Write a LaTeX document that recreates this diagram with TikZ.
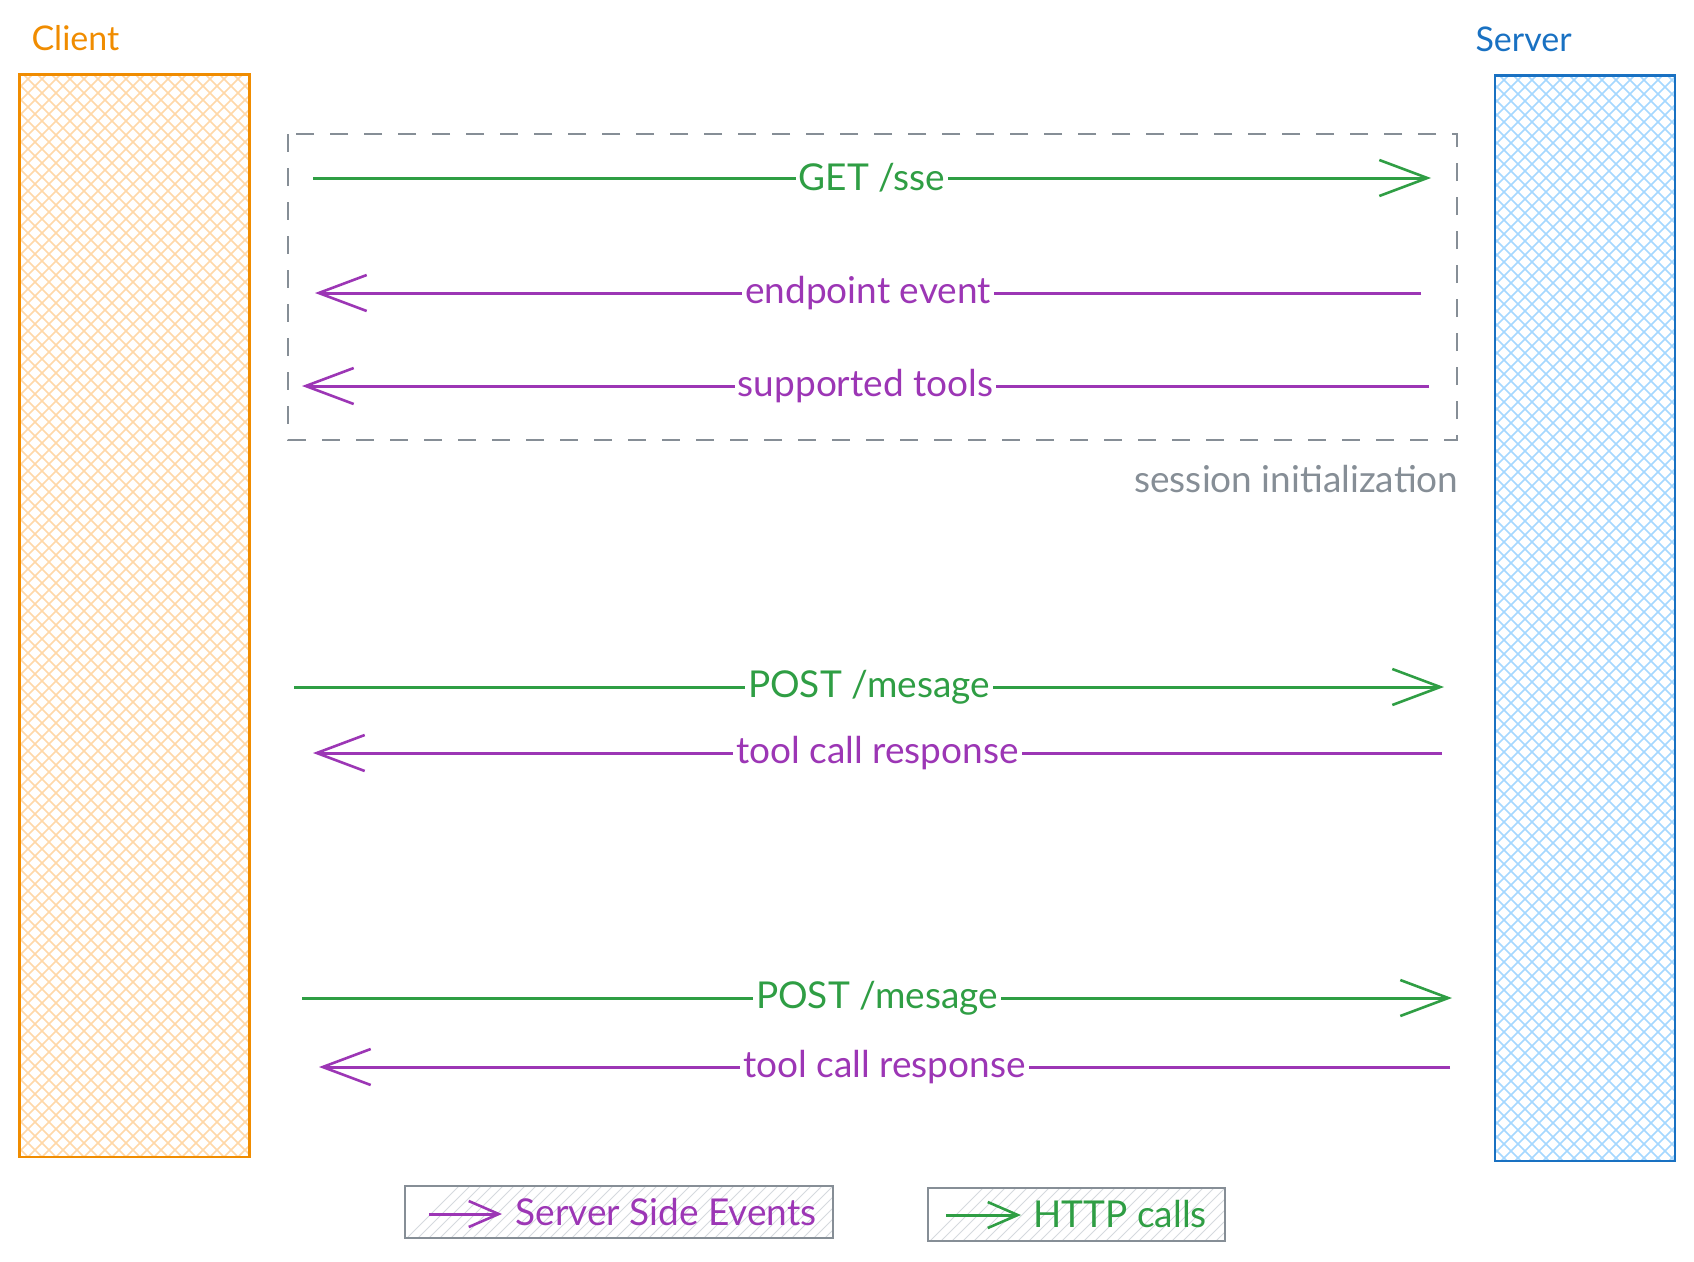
\documentclass[tikz,border=0pt]{standalone}
\usepackage{fontspec}
\setmainfont{Lato}
\usepackage{tikz}
\usetikzlibrary{arrows.meta,positioning}

\definecolor{cliorange}{HTML}{F08C00}
\definecolor{clifill}{HTML}{FFD8A8}
\definecolor{srvblue}{HTML}{1971C2}
\definecolor{srvfill}{HTML}{A5D8FF}
\definecolor{httpgreen}{HTML}{2F9E44}
\definecolor{ssepurple}{HTML}{9C36B5}
\definecolor{boxgray}{HTML}{868E96}
\definecolor{hatchgray}{HTML}{D5D9DE}

\begin{document}
\begin{tikzpicture}[x=1pt,y=-1pt]
\tikzstyle{every node}=[font=\fontsize{37}{44}\selectfont]
\tikzstyle{title}=[font=\fontsize{34}{40}\selectfont]
\tikzstyle{lbl}=[fill=white,inner xsep=3pt,inner ysep=1pt]
\tikzstyle{http}=[httpgreen,line width=3pt,-{Straight Barb[length=48pt,width=36pt,line width=2.6pt]}]
\tikzstyle{sse}=[ssepurple,line width=3pt,-{Straight Barb[length=48pt,width=36pt,line width=2.6pt]}]
\tikzstyle{legend}=[draw=boxgray,line width=2.6pt]
\useasboundingbox (0,0) rectangle (1694,1261);

% lanes
\begin{scope}
\clip (19.5,74.5) rectangle (249.6,1157);
\foreach \i in {-1200,-1186,...,260}
  \draw[clifill,line width=1.7pt] (19+\i,74) -- ++(1100,1100);
\foreach \i in {0,14,...,1360}
  \draw[clifill,line width=1.7pt] (19+\i,74) -- ++(-1100,1100);
\end{scope}
\draw[cliorange,line width=2.6pt] (19.5,74.5) rectangle (249.6,1157);
\node[title,anchor=west,text=cliorange] (client) at (28,38) {Client};

\begin{scope}
\clip (1495,75.6) rectangle (1675,1161);
\foreach \i in {-1200,-1186,...,200}
  \draw[srvfill,line width=1.7pt] (1495+\i,75) -- ++(1100,1100);
\foreach \i in {0,14,...,1300}
  \draw[srvfill,line width=1.7pt] (1495+\i,75) -- ++(-1100,1100);
\end{scope}
\draw[srvblue,line width=2.4pt] (1495,75.6) rectangle (1675,1161);
\node[title,anchor=west,text=srvblue] (server) at (1472,39) {Server};

% session box
\draw[boxgray,line width=2.8pt,dash pattern=on 18pt off 16pt] (288,134) rectangle (1457,440);
\node[anchor=east,text=boxgray] (session) at (1462,479) {session initialization};

% messages
\coordinate (c1) at (313,178);  \coordinate (s1) at (1431,178);
\coordinate (c2) at (315,293);  \coordinate (s2) at (1421,293);
\coordinate (c3) at (302,386);  \coordinate (s3) at (1429,386);
\coordinate (c4) at (294,687);  \coordinate (s4) at (1444,687);
\coordinate (c5) at (313,753);  \coordinate (s5) at (1442,753);
\coordinate (c6) at (302,998);  \coordinate (s6) at (1452,998);
\coordinate (c7) at (319,1067); \coordinate (s7) at (1450,1067);

\draw[http] (c1) -- node[lbl] (getsse) {GET /sse} (s1);
\draw[sse] (s2) -- node[lbl] (endpoint) {endpoint event} (c2);
\draw[sse] (s3) -- node[lbl] (tools) {supported tools} (c3);
\draw[http] (c4) -- node[lbl] (post1) {POST /mesage} (s4);
\draw[sse] (s5) -- node[lbl] (resp1) {tool call response} (c5);
\draw[http] (c6) -- node[lbl] (post2) {POST /mesage} (s6);
\draw[sse] (s7) -- node[lbl] (resp2) {tool call response} (c7);

% legend
\begin{scope}
\clip (405,1186) rectangle (833,1238);
\foreach \i in {0,11,...,500}
  \draw[hatchgray,line width=0.9pt] (405+\i,1240) -- ++(56,-56);
\end{scope}
\draw[legend] (405,1186) rectangle (833,1238);
\coordinate (ssea) at (429,1214); \coordinate (sseb) at (502,1214);
\draw[sse,-{Straight Barb[length=30pt,width=26pt,line width=2.6pt]}] (ssea) -- (sseb);
\node[anchor=west,text=ssepurple] (ssetxt) at (512,1212) {Server Side Events};

\begin{scope}
\clip (928,1188) rectangle (1225,1241);
\foreach \i in {0,11,...,360}
  \draw[hatchgray,line width=0.9pt] (928+\i,1243) -- ++(56,-56);
\end{scope}
\draw[legend] (928,1188) rectangle (1225,1241);
\coordinate (httpa) at (946,1215); \coordinate (httpb) at (1021,1215);
\draw[http,-{Straight Barb[length=30pt,width=26pt,line width=2.6pt]}] (httpa) -- (httpb);
\node[anchor=west,text=httpgreen] (httptxt) at (1030,1214) {HTTP calls};
\end{tikzpicture}
\end{document}
